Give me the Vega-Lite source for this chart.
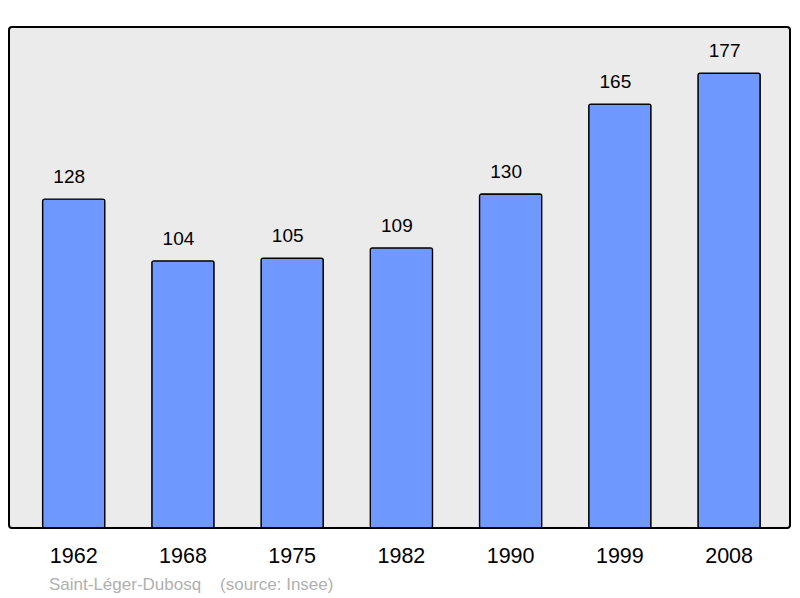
{
  "$schema": "https://vega.github.io/schema/vega-lite/v6.json",
  "autosize": "none",
  "width": 781,
  "height": 501,
  "padding": {"left": 9, "top": 27, "right": 10, "bottom": 70},
  "background": "#ffffff",
  "config": {
    "font": "Liberation Sans",
    "view": {"fill": "#ebebeb", "stroke": "#000000", "strokeWidth": 2, "cornerRadius": 3}
  },
  "data": {
    "values": [
      {"year": "1962", "population": 128},
      {"year": "1968", "population": 104},
      {"year": "1975", "population": 105},
      {"year": "1982", "population": 109},
      {"year": "1990", "population": 130},
      {"year": "1999", "population": 165},
      {"year": "2008", "population": 177}
    ]
  },
  "title": {
    "text": "Saint-Léger-Dubosq\u00a0\u00a0\u00a0\u00a0(source: Insee)",
    "orient": "bottom",
    "anchor": "start",
    "dx": 40,
    "offset": 10,
    "fontSize": 17,
    "fontWeight": "normal",
    "color": "#b0b0b0"
  },
  "encoding": {
    "x": {
      "field": "year",
      "type": "ordinal",
      "scale": {"paddingInner": 0.43, "paddingOuter": 0.29, "align": 0.53},
      "axis": {
        "title": null,
        "labelAngle": 0,
        "labelFontSize": 21.5,
        "labelColor": "#000000",
        "labelPadding": 17,
        "ticks": false,
        "domain": false
      }
    },
    "y": {
      "field": "population",
      "type": "quantitative",
      "scale": {"domain": [0, 195], "nice": false},
      "axis": null
    }
  },
  "layer": [
    {
      "mark": {
        "type": "bar",
        "color": "#7099ff",
        "stroke": "#000000",
        "strokeWidth": 1.3,
        "cornerRadius": 2
      }
    },
    {
      "mark": {
        "type": "text",
        "baseline": "bottom",
        "dx": -4.5,
        "dy": -12,
        "fontSize": 19,
        "color": "#000000"
      },
      "encoding": {
        "text": {"field": "population", "type": "quantitative"}
      }
    }
  ]
}
